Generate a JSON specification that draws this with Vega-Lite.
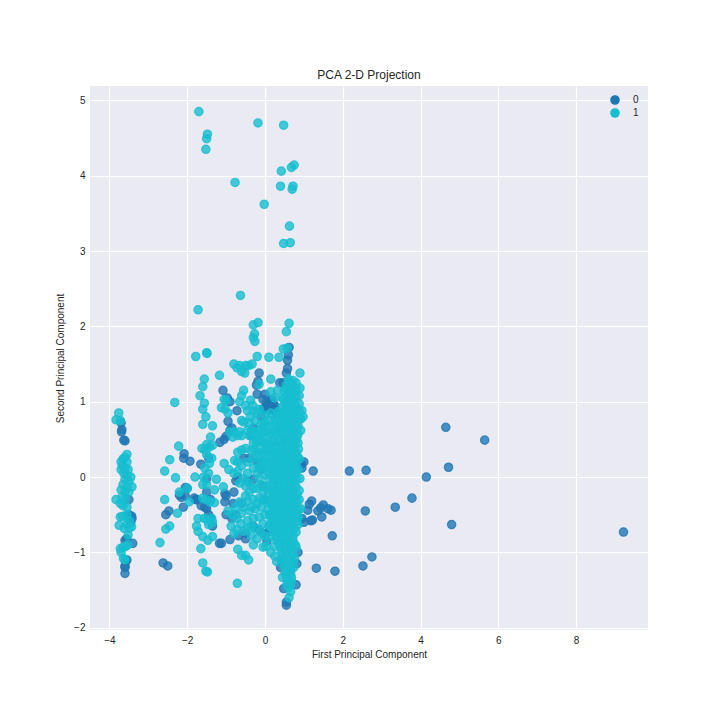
{"$schema":"https://vega.github.io/schema/vega-lite/v6.json","width":558,"height":544,"autosize":"none","padding":{"left":90,"top":86,"right":72,"bottom":90},"background":"white","title":{"text":"PCA 2-D Projection","fontSize":12,"font":"Liberation Sans","fontWeight":"normal","color":"#262626","offset":4},"config":{"view":{"fill":"#EAEAF2","stroke":null},"axis":{"grid":true,"gridColor":"white","gridWidth":1.2,"gridOpacity":1,"domain":false,"ticks":false,"labelFont":"Liberation Sans","titleFont":"Liberation Sans","labelFontSize":10,"titleFontSize":10,"titleFontWeight":"normal","labelColor":"#262626","titleColor":"#262626"}},"data":{"values":[
{"l":"0","a":9.22,"b":-0.73},{"l":"0","a":5.65,"b":0.49},{"l":"0","a":4.65,"b":0.66},{"l":"0","a":4.72,"b":0.13},{"l":"0","a":4.8,"b":-0.63},{"l":"0","a":4.15,"b":0.0},{"l":"0","a":3.78,"b":-0.28},{"l":"0","a":3.35,"b":-0.4},{"l":"0","a":2.6,"b":0.09},{"l":"0","a":2.17,"b":0.08},{"l":"0","a":2.58,"b":-0.45},{"l":"0","a":2.75,"b":-1.06},{"l":"0","a":2.52,"b":-1.18},{"l":"0","a":1.8,"b":-1.25},{"l":"0","a":1.73,"b":-0.78},{"l":"0","a":1.32,"b":-1.21},{"l":"0","a":1.24,"b":0.08},{"l":"0","a":1.7,"b":-0.44},{"l":"0","a":1.62,"b":-0.42},{"l":"0","a":1.5,"b":-0.37},{"l":"0","a":1.43,"b":-0.41},{"l":"0","a":1.36,"b":-0.45},{"l":"0","a":1.2,"b":-0.32},{"l":"0","a":1.14,"b":-0.36},{"l":"0","a":1.1,"b":-0.44},{"l":"0","a":1.18,"b":-0.58},{"l":"0","a":1.22,"b":-0.57},{"l":"0","a":1.46,"b":-0.53},{"l":"0","a":1.0,"b":0.2},{"l":"0","a":0.94,"b":0.17},{"l":"0","a":1.0,"b":-0.6},{"l":"0","a":0.95,"b":-0.55},
{"l":"0","a":-3.7,"b":0.72},{"l":"0","a":-3.68,"b":0.63},{"l":"0","a":-3.69,"b":0.6},{"l":"0","a":-3.63,"b":0.49},{"l":"0","a":-3.6,"b":0.48},{"l":"0","a":-3.5,"b":-0.5},{"l":"0","a":-3.43,"b":-0.52},{"l":"0","a":-3.42,"b":-0.55},{"l":"0","a":-3.45,"b":-0.6},{"l":"0","a":-3.5,"b":-0.3},{"l":"0","a":-3.56,"b":-0.82},{"l":"0","a":-3.4,"b":-0.88},{"l":"0","a":-3.6,"b":-0.84},{"l":"0","a":-3.55,"b":-1.1},{"l":"0","a":-3.58,"b":-1.12},{"l":"0","a":-3.6,"b":-1.18},{"l":"0","a":-3.6,"b":-1.2},{"l":"0","a":-3.6,"b":-1.28},
{"l":"0","a":-2.62,"b":-1.14},{"l":"0","a":-2.5,"b":-1.18},{"l":"0","a":-2.55,"b":-0.5},{"l":"0","a":-2.47,"b":-0.45},{"l":"0","a":-2.08,"b":0.31},{"l":"0","a":-2.09,"b":0.25},{"l":"0","a":-1.93,"b":0.21},{"l":"0","a":-2.05,"b":-0.14},{"l":"0","a":-2.15,"b":-0.27},{"l":"0","a":-2.05,"b":-0.25},{"l":"0","a":-2.2,"b":-0.24},{"l":"0","a":-2.1,"b":-0.4},{"l":"0","a":-1.82,"b":-0.28},{"l":"0","a":-1.78,"b":-0.3},{"l":"0","a":-1.64,"b":-0.38},{"l":"0","a":-1.5,"b":-0.42},{"l":"0","a":-1.45,"b":-0.5},{"l":"0","a":-1.4,"b":-0.55},{"l":"0","a":-1.35,"b":-0.65},{"l":"0","a":-1.65,"b":0.17},{"l":"0","a":-1.45,"b":0.25},{"l":"0","a":-1.5,"b":-0.02},{"l":"0","a":-1.5,"b":-0.2},{"l":"0","a":-1.17,"b":-0.88},{"l":"0","a":-1.12,"b":-0.88},{"l":"0","a":-0.9,"b":-0.83},{"l":"0","a":-1.16,"b":0.46},{"l":"0","a":-1.05,"b":0.5},{"l":"0","a":-1.0,"b":0.54},{"l":"0","a":-0.9,"b":0.62},{"l":"0","a":-0.85,"b":0.65},{"l":"0","a":-0.95,"b":0.74},{"l":"0","a":-1.08,"b":1.15},{"l":"0","a":-0.97,"b":1.05},{"l":"0","a":-0.9,"b":1.0},{"l":"0","a":-0.72,"b":0.88},{"l":"0","a":-1.03,"b":-0.22},{"l":"0","a":-1.0,"b":-0.25},{"l":"0","a":-1.03,"b":-0.33},{"l":"0","a":-0.8,"b":-0.2},{"l":"0","a":-0.82,"b":-0.35},{"l":"0","a":-0.75,"b":-0.05},{"l":"0","a":-0.7,"b":0.0},{"l":"0","a":-0.68,"b":-0.78},{"l":"0","a":-0.5,"b":-0.82},{"l":"0","a":-0.3,"b":-0.65},{"l":"0","a":-0.2,"b":1.1},{"l":"0","a":-0.15,"b":1.38},{"l":"0","a":-0.18,"b":1.27},{"l":"0","a":-0.22,"b":1.22},{"l":"0","a":0.0,"b":1.1},{"l":"0","a":0.05,"b":1.0},{"l":"0","a":-0.05,"b":0.9},{"l":"0","a":0.1,"b":0.88},{"l":"0","a":-0.1,"b":0.8},{"l":"0","a":0.05,"b":0.95},{"l":"0","a":-0.3,"b":0.65},{"l":"0","a":-0.4,"b":0.25},{"l":"0","a":-0.2,"b":0.2},{"l":"0","a":-0.1,"b":0.1},{"l":"0","a":-0.05,"b":-0.12},{"l":"0","a":-0.3,"b":-0.03},{"l":"0","a":0.0,"b":-0.75},{"l":"0","a":-0.15,"b":-0.7},{"l":"0","a":0.62,"b":1.72},{"l":"0","a":0.6,"b":1.62},{"l":"0","a":0.58,"b":1.55},{"l":"0","a":0.58,"b":1.44},{"l":"0","a":0.55,"b":1.38},{"l":"0","a":0.38,"b":1.25},{"l":"0","a":0.46,"b":1.25},{"l":"0","a":0.65,"b":1.25},{"l":"0","a":0.25,"b":0.95},{"l":"0","a":0.3,"b":0.82},{"l":"0","a":0.55,"b":-1.7},{"l":"0","a":0.55,"b":-1.66},{"l":"0","a":0.48,"b":-1.48},{"l":"0","a":0.8,"b":-1.43},{"l":"0","a":0.4,"b":-1.2},{"l":"0","a":0.42,"b":-1.1},{"l":"0","a":0.82,"b":-1.15},{"l":"0","a":0.85,"b":-1.0},{"l":"0","a":0.95,"b":0.12},{"l":"0","a":0.5,"b":0.5},{"l":"0","a":0.4,"b":-0.2},
{"l":"0","a":0.1,"b":0.98},{"l":"0","a":0.2,"b":0.98},{"l":"0","a":0.0,"b":0.92},{"l":"0","a":-0.05,"b":1.03},{"l":"0","a":0.15,"b":0.9},{"l":"0","a":0.28,"b":0.9},{"l":"0","a":0.18,"b":1.03},{"l":"0","a":-0.35,"b":0.55},{"l":"0","a":-0.55,"b":0.25},{"l":"0","a":-0.6,"b":-0.35},{"l":"0","a":-0.75,"b":-0.5},{"l":"0","a":-0.5,"b":-0.75},{"l":"0","a":0.1,"b":-0.72},{"l":"0","a":0.05,"b":-0.85},{"l":"0","a":0.0,"b":-0.3},{"l":"0","a":-0.45,"b":-0.05},{"l":"0","a":-1.0,"b":-0.5},{"l":"0","a":-0.85,"b":-0.55},{"l":"0","a":-2.0,"b":-0.15},{"l":"0","a":-1.75,"b":-0.3},{"l":"0","a":-1.4,"b":-0.3},{"l":"0","a":-1.55,"b":-0.4},
{"l":"1","a":-1.7,"b":4.85},{"l":"1","a":-1.48,"b":4.55},{"l":"1","a":-1.5,"b":4.49},{"l":"1","a":-1.52,"b":4.35},{"l":"1","a":-0.18,"b":4.7},{"l":"1","a":0.48,"b":4.67},{"l":"1","a":0.42,"b":4.06},{"l":"1","a":0.68,"b":4.11},{"l":"1","a":0.75,"b":4.14},{"l":"1","a":0.72,"b":3.86},{"l":"1","a":0.7,"b":3.82},{"l":"1","a":0.4,"b":3.86},{"l":"1","a":-0.77,"b":3.91},{"l":"1","a":-0.02,"b":3.62},{"l":"1","a":0.63,"b":3.33},{"l":"1","a":0.48,"b":3.1},{"l":"1","a":0.65,"b":3.11},{"l":"1","a":-1.72,"b":2.22},{"l":"1","a":-0.63,"b":2.41},{"l":"1","a":-0.3,"b":2.02},{"l":"1","a":-0.18,"b":2.05},{"l":"1","a":-0.27,"b":1.9},{"l":"1","a":-0.3,"b":1.85},{"l":"1","a":-0.26,"b":1.8},{"l":"1","a":0.62,"b":2.04},{"l":"1","a":0.55,"b":1.93},{"l":"1","a":0.1,"b":1.59},{"l":"1","a":0.36,"b":1.59},{"l":"1","a":-0.2,"b":1.6},{"l":"1","a":-1.78,"b":1.6},{"l":"1","a":-1.5,"b":1.65},{"l":"1","a":-1.49,"b":1.64},{"l":"1","a":0.47,"b":1.7},{"l":"1","a":0.57,"b":1.71},{"l":"1","a":-2.32,"b":0.99},
{"l":"1","a":-3.83,"b":0.76},{"l":"1","a":-3.76,"b":0.85},{"l":"1","a":-3.72,"b":0.75},{"l":"1","a":-3.55,"b":0.3},{"l":"1","a":-3.65,"b":0.24},{"l":"1","a":-3.6,"b":0.26},{"l":"1","a":-3.7,"b":0.2},{"l":"1","a":-3.55,"b":0.2},{"l":"1","a":-3.67,"b":0.15},{"l":"1","a":-3.6,"b":0.12},{"l":"1","a":-3.52,"b":0.1},{"l":"1","a":-3.7,"b":0.1},{"l":"1","a":-3.63,"b":0.05},{"l":"1","a":-3.55,"b":0.02},{"l":"1","a":-3.45,"b":0.0},{"l":"1","a":-3.6,"b":-0.03},{"l":"1","a":-3.5,"b":-0.06},{"l":"1","a":-3.65,"b":-0.1},{"l":"1","a":-3.55,"b":-0.13},{"l":"1","a":-3.42,"b":-0.13},{"l":"1","a":-3.7,"b":-0.17},{"l":"1","a":-3.6,"b":-0.2},{"l":"1","a":-3.5,"b":-0.2},{"l":"1","a":-3.68,"b":-0.27},{"l":"1","a":-3.6,"b":-0.3},{"l":"1","a":-3.83,"b":-0.3},{"l":"1","a":-3.72,"b":-0.35},{"l":"1","a":-3.65,"b":-0.38},{"l":"1","a":-3.55,"b":-0.4},{"l":"1","a":-3.66,"b":-0.52},{"l":"1","a":-3.55,"b":-0.5},{"l":"1","a":-3.48,"b":-0.58},{"l":"1","a":-3.72,"b":-0.53},{"l":"1","a":-3.55,"b":-0.62},{"l":"1","a":-3.75,"b":-0.64},{"l":"1","a":-3.43,"b":-0.66},{"l":"1","a":-3.5,"b":-0.68},{"l":"1","a":-3.62,"b":-0.68},{"l":"1","a":-3.52,"b":-0.77},{"l":"1","a":-3.72,"b":-0.95},{"l":"1","a":-3.65,"b":-0.93},{"l":"1","a":-3.58,"b":-0.92},{"l":"1","a":-3.53,"b":-0.9},{"l":"1","a":-3.7,"b":-1.0},{"l":"1","a":-3.64,"b":-1.08},{"l":"1","a":-3.6,"b":-1.1},
{"l":"1","a":-2.7,"b":-0.87},{"l":"1","a":-2.58,"b":-0.3},{"l":"1","a":-2.58,"b":0.08},{"l":"1","a":-2.45,"b":0.23},{"l":"1","a":-2.22,"b":0.41},{"l":"1","a":-2.3,"b":-0.01},{"l":"1","a":-2.25,"b":-0.48},{"l":"1","a":-2.2,"b":-0.2},{"l":"1","a":-2.0,"b":-0.15},{"l":"1","a":-1.95,"b":-0.33},{"l":"1","a":-2.45,"b":-0.65},{"l":"1","a":-2.55,"b":-0.69},{"l":"1","a":-1.8,"b":0.0},{"l":"1","a":-1.65,"b":-0.95},{"l":"1","a":-1.6,"b":-1.14},{"l":"1","a":-1.52,"b":-1.25},{"l":"1","a":-1.48,"b":-1.26},
{"l":"1","a":-1.56,"b":1.3},{"l":"1","a":-1.6,"b":1.2},{"l":"1","a":-1.67,"b":1.08},{"l":"1","a":-1.56,"b":0.98},{"l":"1","a":-1.6,"b":0.9},{"l":"1","a":-1.52,"b":0.8},{"l":"1","a":-1.6,"b":0.7},{"l":"1","a":-1.35,"b":0.68},{"l":"1","a":-1.4,"b":0.53},{"l":"1","a":-1.5,"b":0.43},{"l":"1","a":-1.43,"b":0.4},{"l":"1","a":-1.35,"b":0.42},{"l":"1","a":-1.62,"b":0.38},{"l":"1","a":-1.55,"b":0.36},{"l":"1","a":-1.5,"b":0.3},{"l":"1","a":-1.37,"b":0.25},{"l":"1","a":-1.43,"b":0.18},{"l":"1","a":-1.55,"b":0.12},{"l":"1","a":-1.58,"b":0.0},{"l":"1","a":-1.45,"b":0.05},{"l":"1","a":-1.6,"b":-0.1},{"l":"1","a":-1.5,"b":-0.1},{"l":"1","a":-1.25,"b":-0.03},{"l":"1","a":-1.3,"b":-0.17},{"l":"1","a":-1.07,"b":-0.13},{"l":"1","a":-1.6,"b":-0.28},{"l":"1","a":-1.52,"b":-0.3},{"l":"1","a":-1.42,"b":-0.33},{"l":"1","a":-1.3,"b":-0.34},{"l":"1","a":-1.56,"b":-0.55},{"l":"1","a":-1.48,"b":-0.57},{"l":"1","a":-1.37,"b":-0.55},{"l":"1","a":-1.72,"b":-0.55},{"l":"1","a":-1.45,"b":-0.63},{"l":"1","a":-1.35,"b":-0.6},{"l":"1","a":-1.76,"b":-0.65},{"l":"1","a":-1.72,"b":-0.72},{"l":"1","a":-1.6,"b":-0.79},{"l":"1","a":-1.47,"b":-0.84},{"l":"1","a":-1.35,"b":-0.79},{"l":"1","a":-1.12,"b":0.92},{"l":"1","a":-1.17,"b":1.35},{"l":"1","a":-1.05,"b":1.03},{"l":"1","a":-1.0,"b":1.02},{"l":"1","a":-0.95,"b":0.85},{"l":"1","a":-1.03,"b":0.9},{"l":"1","a":-0.9,"b":0.6},{"l":"1","a":-0.83,"b":0.53},{"l":"1","a":-0.8,"b":0.6},{"l":"1","a":-0.7,"b":0.55},{"l":"1","a":-1.05,"b":0.18},{"l":"1","a":-0.93,"b":0.1},{"l":"1","a":-0.7,"b":0.33},{"l":"1","a":-0.6,"b":0.36},{"l":"1","a":-0.5,"b":0.38},{"l":"1","a":-0.78,"b":0.22},{"l":"1","a":-0.7,"b":0.2},{"l":"1","a":-0.8,"b":0.05},{"l":"1","a":-0.7,"b":0.08},{"l":"1","a":-0.6,"b":0.15},{"l":"1","a":-0.65,"b":-0.08},{"l":"1","a":-0.55,"b":-0.02},{"l":"1","a":-0.95,"b":-0.45},{"l":"1","a":-0.85,"b":-0.5},{"l":"1","a":-0.75,"b":-0.4},{"l":"1","a":-0.65,"b":-0.33},{"l":"1","a":-0.6,"b":-0.48},{"l":"1","a":-0.72,"b":-0.55},{"l":"1","a":-0.62,"b":-0.62},{"l":"1","a":-0.87,"b":-0.65},{"l":"1","a":-0.8,"b":-0.75},{"l":"1","a":-0.72,"b":-0.7},{"l":"1","a":-0.55,"b":-0.72},{"l":"1","a":-0.45,"b":-0.68},{"l":"1","a":-0.35,"b":-0.78},{"l":"1","a":-0.2,"b":-0.82},{"l":"1","a":-0.3,"b":-0.9},{"l":"1","a":-0.7,"b":-0.96},{"l":"1","a":-0.6,"b":-1.04},{"l":"1","a":-0.5,"b":-1.04},{"l":"1","a":-0.42,"b":-1.1},{"l":"1","a":-0.71,"b":-1.41},
{"l":"1","a":-0.8,"b":1.5},{"l":"1","a":-0.72,"b":1.45},{"l":"1","a":-0.65,"b":1.48},{"l":"1","a":-0.6,"b":1.4},{"l":"1","a":-0.5,"b":1.48},{"l":"1","a":-0.42,"b":1.48},{"l":"1","a":-0.33,"b":1.5},{"l":"1","a":-0.52,"b":1.38},{"l":"1","a":-0.15,"b":1.23},{"l":"1","a":0.15,"b":1.3},{"l":"1","a":0.9,"b":1.38},{"l":"1","a":0.32,"b":1.15},{"l":"1","a":-0.55,"b":1.15},{"l":"1","a":-0.6,"b":1.08},{"l":"1","a":-0.65,"b":1.0},{"l":"1","a":-0.37,"b":1.02},{"l":"1","a":-0.5,"b":0.95},{"l":"1","a":-0.45,"b":0.88},{"l":"1","a":-0.3,"b":0.88},{"l":"1","a":-0.2,"b":0.85},{"l":"1","a":-0.55,"b":0.73},{"l":"1","a":-0.42,"b":0.72},{"l":"1","a":-0.25,"b":0.75},{"l":"1","a":-0.1,"b":0.7},{"l":"1","a":0.0,"b":0.82},{"l":"1","a":0.1,"b":0.75},{"l":"1","a":0.15,"b":0.85},{"l":"1","a":0.3,"b":0.72},{"l":"1","a":0.45,"b":1.05},{"l":"1","a":0.15,"b":1.13},{"l":"1","a":0.25,"b":1.05},{"l":"1","a":-0.4,"b":0.55},{"l":"1","a":-0.25,"b":0.6},{"l":"1","a":-0.12,"b":0.55},{"l":"1","a":0.05,"b":0.6},{"l":"1","a":0.2,"b":0.58},{"l":"1","a":-0.3,"b":0.45},{"l":"1","a":-0.15,"b":0.48},{"l":"1","a":0.0,"b":0.45},{"l":"1","a":0.15,"b":0.45},{"l":"1","a":-0.35,"b":0.35},{"l":"1","a":-0.2,"b":0.33},{"l":"1","a":-0.05,"b":0.32},{"l":"1","a":0.1,"b":0.35},{"l":"1","a":-0.1,"b":0.2},{"l":"1","a":0.05,"b":0.2},{"l":"1","a":-0.45,"b":0.2},{"l":"1","a":-0.45,"b":0.05},{"l":"1","a":-0.3,"b":0.12},{"l":"1","a":-0.2,"b":0.05},{"l":"1","a":0.0,"b":0.03},{"l":"1","a":-0.5,"b":-0.12},{"l":"1","a":-0.4,"b":-0.2},{"l":"1","a":-0.3,"b":-0.15},{"l":"1","a":-0.15,"b":-0.02},{"l":"1","a":-0.45,"b":-0.32},{"l":"1","a":-0.3,"b":-0.3},{"l":"1","a":-0.15,"b":-0.28},{"l":"1","a":-0.05,"b":-0.2},{"l":"1","a":0.05,"b":-0.15},{"l":"1","a":-0.4,"b":-0.45},{"l":"1","a":-0.25,"b":-0.42},{"l":"1","a":-0.1,"b":-0.4},{"l":"1","a":0.05,"b":-0.33},{"l":"1","a":-0.45,"b":-0.58},{"l":"1","a":-0.3,"b":-0.55},{"l":"1","a":-0.15,"b":-0.53},{"l":"1","a":0.0,"b":-0.5},{"l":"1","a":0.12,"b":-0.5},{"l":"1","a":-0.25,"b":-0.68},{"l":"1","a":-0.05,"b":-0.62},{"l":"1","a":0.1,"b":-0.65},{"l":"1","a":-0.05,"b":-0.93},{"l":"1","a":0.03,"b":-0.92},{"l":"1","a":0.12,"b":-0.8},{"l":"1","a":0.15,"b":-1.0},{"l":"1","a":0.25,"b":-1.05},{"l":"1","a":0.3,"b":-1.12},{"l":"1","a":0.33,"b":-0.85},{"l":"1","a":0.25,"b":-0.92},
{"l":"1","a":-0.35,"b":0.62},{"l":"1","a":-0.3,"b":0.25},{"l":"1","a":-0.15,"b":0.12},{"l":"1","a":-0.05,"b":0.12},{"l":"1","a":-0.4,"b":-0.08},{"l":"1","a":-0.2,"b":-0.15},{"l":"1","a":-0.1,"b":-0.1},{"l":"1","a":-0.35,"b":-0.4},{"l":"1","a":-0.2,"b":-0.35},{"l":"1","a":-0.05,"b":-0.3},{"l":"1","a":-0.35,"b":-0.65},{"l":"1","a":-0.12,"b":-0.72},{"l":"1","a":0.0,"b":-0.78},{"l":"1","a":-0.55,"b":-0.4},{"l":"1","a":-0.5,"b":-0.25},{"l":"1","a":-0.1,"b":0.62},{"l":"1","a":0.0,"b":0.72},{"l":"1","a":-0.15,"b":0.9},{"l":"1","a":-0.38,"b":0.8},{"l":"1","a":-0.32,"b":0.95},{"l":"1","a":-0.45,"b":0.62},{"l":"1","a":-0.6,"b":0.75},{"l":"1","a":-0.65,"b":0.6},{"l":"1","a":-0.6,"b":0.55},
{"l":"1","a":0.6,"b":1.3},{"l":"1","a":0.55,"b":1.22},{"l":"1","a":0.68,"b":1.22},{"l":"1","a":0.8,"b":1.25},{"l":"1","a":0.9,"b":1.18},{"l":"1","a":0.5,"b":1.15},{"l":"1","a":0.62,"b":1.12},{"l":"1","a":0.75,"b":1.13},{"l":"1","a":0.88,"b":1.08},{"l":"1","a":0.48,"b":1.03},{"l":"1","a":0.6,"b":1.02},{"l":"1","a":0.72,"b":1.02},{"l":"1","a":0.45,"b":0.93},{"l":"1","a":0.58,"b":0.92},{"l":"1","a":0.7,"b":0.92},{"l":"1","a":0.82,"b":0.9},{"l":"1","a":0.95,"b":0.88},{"l":"1","a":0.4,"b":0.83},{"l":"1","a":0.55,"b":0.82},{"l":"1","a":0.68,"b":0.82},{"l":"1","a":0.8,"b":0.8},{"l":"1","a":0.98,"b":0.8},{"l":"1","a":0.88,"b":0.78},{"l":"1","a":0.45,"b":0.72},{"l":"1","a":0.58,"b":0.72},{"l":"1","a":0.72,"b":0.72},{"l":"1","a":0.85,"b":0.68},{"l":"1","a":0.3,"b":0.62},{"l":"1","a":0.45,"b":0.62},{"l":"1","a":0.6,"b":0.62},{"l":"1","a":0.75,"b":0.62},{"l":"1","a":0.92,"b":0.62},{"l":"1","a":0.35,"b":0.52},{"l":"1","a":0.5,"b":0.52},{"l":"1","a":0.65,"b":0.52},{"l":"1","a":0.82,"b":0.52},{"l":"1","a":0.28,"b":0.42},{"l":"1","a":0.42,"b":0.42},{"l":"1","a":0.58,"b":0.42},{"l":"1","a":0.72,"b":0.42},{"l":"1","a":0.85,"b":0.45},{"l":"1","a":0.22,"b":0.32},{"l":"1","a":0.36,"b":0.32},{"l":"1","a":0.52,"b":0.32},{"l":"1","a":0.66,"b":0.32},{"l":"1","a":0.8,"b":0.32},{"l":"1","a":0.2,"b":0.22},{"l":"1","a":0.34,"b":0.22},{"l":"1","a":0.48,"b":0.22},{"l":"1","a":0.62,"b":0.22},{"l":"1","a":0.76,"b":0.22},{"l":"1","a":0.88,"b":0.24},{"l":"1","a":0.15,"b":0.12},{"l":"1","a":0.3,"b":0.12},{"l":"1","a":0.44,"b":0.12},{"l":"1","a":0.58,"b":0.12},{"l":"1","a":0.72,"b":0.12},{"l":"1","a":0.85,"b":0.1},{"l":"1","a":0.18,"b":0.02},{"l":"1","a":0.32,"b":0.02},{"l":"1","a":0.46,"b":0.02},{"l":"1","a":0.6,"b":0.02},{"l":"1","a":0.74,"b":0.02},{"l":"1","a":0.9,"b":-0.02},{"l":"1","a":0.2,"b":-0.08},{"l":"1","a":0.34,"b":-0.08},{"l":"1","a":0.48,"b":-0.08},{"l":"1","a":0.62,"b":-0.08},{"l":"1","a":0.76,"b":-0.08},{"l":"1","a":0.16,"b":-0.18},{"l":"1","a":0.3,"b":-0.18},{"l":"1","a":0.44,"b":-0.18},{"l":"1","a":0.58,"b":-0.18},{"l":"1","a":0.72,"b":-0.18},{"l":"1","a":0.88,"b":-0.18},{"l":"1","a":0.2,"b":-0.28},{"l":"1","a":0.34,"b":-0.28},{"l":"1","a":0.48,"b":-0.28},{"l":"1","a":0.62,"b":-0.28},{"l":"1","a":0.76,"b":-0.28},{"l":"1","a":0.88,"b":-0.3},{"l":"1","a":0.18,"b":-0.38},{"l":"1","a":0.32,"b":-0.38},{"l":"1","a":0.46,"b":-0.38},{"l":"1","a":0.6,"b":-0.38},{"l":"1","a":0.74,"b":-0.38},{"l":"1","a":0.92,"b":-0.42},{"l":"1","a":0.2,"b":-0.48},{"l":"1","a":0.34,"b":-0.48},{"l":"1","a":0.48,"b":-0.48},{"l":"1","a":0.62,"b":-0.48},{"l":"1","a":0.78,"b":-0.48},{"l":"1","a":0.22,"b":-0.58},{"l":"1","a":0.36,"b":-0.58},{"l":"1","a":0.5,"b":-0.58},{"l":"1","a":0.64,"b":-0.58},{"l":"1","a":0.8,"b":-0.58},{"l":"1","a":0.18,"b":-0.68},{"l":"1","a":0.32,"b":-0.68},{"l":"1","a":0.46,"b":-0.68},{"l":"1","a":0.6,"b":-0.68},{"l":"1","a":0.76,"b":-0.68},{"l":"1","a":0.3,"b":-0.78},{"l":"1","a":0.44,"b":-0.78},{"l":"1","a":0.58,"b":-0.78},{"l":"1","a":0.72,"b":-0.78},{"l":"1","a":0.38,"b":-0.88},{"l":"1","a":0.52,"b":-0.88},{"l":"1","a":0.66,"b":-0.88},{"l":"1","a":0.78,"b":-0.9},{"l":"1","a":0.42,"b":-0.98},{"l":"1","a":0.56,"b":-0.98},{"l":"1","a":0.7,"b":-0.98},{"l":"1","a":0.48,"b":-1.08},{"l":"1","a":0.62,"b":-1.08},{"l":"1","a":0.76,"b":-1.08},{"l":"1","a":0.5,"b":-1.18},{"l":"1","a":0.64,"b":-1.18},{"l":"1","a":0.74,"b":-1.2},{"l":"1","a":0.52,"b":-1.28},{"l":"1","a":0.66,"b":-1.28},{"l":"1","a":0.45,"b":-1.33},{"l":"1","a":0.58,"b":-1.38},{"l":"1","a":0.68,"b":-1.38},{"l":"1","a":0.6,"b":-1.47},{"l":"1","a":0.66,"b":-1.52},{"l":"1","a":0.62,"b":-1.6},
{"l":"1","a":0.62,"b":1.27},{"l":"1","a":0.72,"b":1.28},{"l":"1","a":0.55,"b":1.17},{"l":"1","a":0.68,"b":1.17},{"l":"1","a":0.8,"b":1.17},{"l":"1","a":0.55,"b":1.07},{"l":"1","a":0.67,"b":1.07},{"l":"1","a":0.8,"b":1.07},{"l":"1","a":0.52,"b":0.97},{"l":"1","a":0.65,"b":0.97},{"l":"1","a":0.78,"b":0.97},{"l":"1","a":0.88,"b":0.97},{"l":"1","a":0.35,"b":0.87},{"l":"1","a":0.5,"b":0.87},{"l":"1","a":0.62,"b":0.87},{"l":"1","a":0.75,"b":0.87},{"l":"1","a":0.88,"b":0.87},{"l":"1","a":0.25,"b":0.77},{"l":"1","a":0.38,"b":0.77},{"l":"1","a":0.5,"b":0.77},{"l":"1","a":0.65,"b":0.77},{"l":"1","a":0.78,"b":0.77},{"l":"1","a":0.92,"b":0.77},{"l":"1","a":-0.05,"b":0.67},{"l":"1","a":0.1,"b":0.67},{"l":"1","a":0.22,"b":0.67},{"l":"1","a":0.38,"b":0.67},{"l":"1","a":0.52,"b":0.67},{"l":"1","a":0.66,"b":0.67},{"l":"1","a":0.8,"b":0.67},{"l":"1","a":-0.3,"b":0.57},{"l":"1","a":-0.18,"b":0.57},{"l":"1","a":-0.05,"b":0.57},{"l":"1","a":0.12,"b":0.57},{"l":"1","a":0.27,"b":0.57},{"l":"1","a":0.42,"b":0.57},{"l":"1","a":0.57,"b":0.57},{"l":"1","a":0.7,"b":0.57},{"l":"1","a":0.85,"b":0.57},{"l":"1","a":-0.22,"b":0.47},{"l":"1","a":-0.08,"b":0.47},{"l":"1","a":0.08,"b":0.47},{"l":"1","a":0.22,"b":0.47},{"l":"1","a":0.35,"b":0.47},{"l":"1","a":0.5,"b":0.47},{"l":"1","a":0.65,"b":0.47},{"l":"1","a":0.78,"b":0.47},{"l":"1","a":-0.28,"b":0.37},{"l":"1","a":-0.12,"b":0.37},{"l":"1","a":0.02,"b":0.37},{"l":"1","a":0.16,"b":0.37},{"l":"1","a":0.3,"b":0.37},{"l":"1","a":0.45,"b":0.37},{"l":"1","a":0.6,"b":0.37},{"l":"1","a":0.74,"b":0.37},{"l":"1","a":0.86,"b":0.37},{"l":"1","a":-0.15,"b":0.27},{"l":"1","a":0.0,"b":0.27},{"l":"1","a":0.13,"b":0.27},{"l":"1","a":0.28,"b":0.27},{"l":"1","a":0.42,"b":0.27},{"l":"1","a":0.56,"b":0.27},{"l":"1","a":0.7,"b":0.27},{"l":"1","a":0.84,"b":0.27},{"l":"1","a":-0.02,"b":0.17},{"l":"1","a":0.1,"b":0.17},{"l":"1","a":0.24,"b":0.17},{"l":"1","a":0.38,"b":0.17},{"l":"1","a":0.52,"b":0.17},{"l":"1","a":0.66,"b":0.17},{"l":"1","a":0.8,"b":0.17},{"l":"1","a":0.08,"b":0.07},{"l":"1","a":0.22,"b":0.07},{"l":"1","a":0.37,"b":0.07},{"l":"1","a":0.51,"b":0.07},{"l":"1","a":0.65,"b":0.07},{"l":"1","a":0.8,"b":0.07},{"l":"1","a":0.1,"b":-0.03},{"l":"1","a":0.25,"b":-0.03},{"l":"1","a":0.4,"b":-0.03},{"l":"1","a":0.54,"b":-0.03},{"l":"1","a":0.68,"b":-0.03},{"l":"1","a":0.82,"b":-0.03},{"l":"1","a":0.08,"b":-0.13},{"l":"1","a":0.23,"b":-0.13},{"l":"1","a":0.37,"b":-0.13},{"l":"1","a":0.52,"b":-0.13},{"l":"1","a":0.66,"b":-0.13},{"l":"1","a":0.8,"b":-0.13},{"l":"1","a":0.1,"b":-0.23},{"l":"1","a":0.24,"b":-0.23},{"l":"1","a":0.38,"b":-0.23},{"l":"1","a":0.52,"b":-0.23},{"l":"1","a":0.66,"b":-0.23},{"l":"1","a":0.82,"b":-0.23},{"l":"1","a":0.12,"b":-0.33},{"l":"1","a":0.26,"b":-0.33},{"l":"1","a":0.4,"b":-0.33},{"l":"1","a":0.54,"b":-0.33},{"l":"1","a":0.68,"b":-0.33},{"l":"1","a":0.82,"b":-0.33},{"l":"1","a":0.08,"b":-0.43},{"l":"1","a":0.25,"b":-0.43},{"l":"1","a":0.4,"b":-0.43},{"l":"1","a":0.55,"b":-0.43},{"l":"1","a":0.7,"b":-0.43},{"l":"1","a":0.85,"b":-0.43},{"l":"1","a":0.14,"b":-0.53},{"l":"1","a":0.28,"b":-0.53},{"l":"1","a":0.42,"b":-0.53},{"l":"1","a":0.56,"b":-0.53},{"l":"1","a":0.7,"b":-0.53},{"l":"1","a":0.86,"b":-0.53},{"l":"1","a":0.12,"b":-0.63},{"l":"1","a":0.26,"b":-0.63},{"l":"1","a":0.4,"b":-0.63},{"l":"1","a":0.54,"b":-0.63},{"l":"1","a":0.68,"b":-0.63},{"l":"1","a":0.85,"b":-0.63},{"l":"1","a":0.22,"b":-0.73},{"l":"1","a":0.36,"b":-0.73},{"l":"1","a":0.5,"b":-0.73},{"l":"1","a":0.64,"b":-0.73},{"l":"1","a":0.8,"b":-0.73},{"l":"1","a":0.3,"b":-0.83},{"l":"1","a":0.45,"b":-0.83},{"l":"1","a":0.58,"b":-0.83},{"l":"1","a":0.72,"b":-0.83},{"l":"1","a":0.4,"b":-0.93},{"l":"1","a":0.52,"b":-0.93},{"l":"1","a":0.66,"b":-0.93},{"l":"1","a":0.8,"b":-0.93},{"l":"1","a":0.45,"b":-1.03},{"l":"1","a":0.58,"b":-1.03},{"l":"1","a":0.72,"b":-1.03},{"l":"1","a":0.48,"b":-1.13},{"l":"1","a":0.6,"b":-1.13},{"l":"1","a":0.72,"b":-1.13},{"l":"1","a":0.52,"b":-1.23},{"l":"1","a":0.66,"b":-1.23},{"l":"1","a":0.56,"b":-1.33},{"l":"1","a":0.68,"b":-1.33},{"l":"1","a":0.56,"b":-1.43},{"l":"1","a":0.66,"b":-1.43}
]},"mark":{"type":"point","filled":true,"opacity":1,"fillOpacity":0.8,"strokeOpacity":0.8,"strokeWidth":1.2,"size":70},"encoding":{"x":{"field":"a","type":"quantitative","title":"First Principal Component","scale":{"domain":[-4.5,9.85],"nice":false,"zero":false},"axis":{"values":[-4,-2,0,2,4,6,8],"titlePadding":4,"labelPadding":5}},"y":{"field":"b","type":"quantitative","title":"Second Principal Component","scale":{"domain":[-2.03,5.19],"nice":false,"zero":false},"axis":{"values":[-2,-1,0,1,2,3,4,5],"titlePadding":8,"labelPadding":5}},"color":{"field":"l","type":"nominal","scale":{"domain":["0","1"],"range":["#1f77b4","#17becf"]},"legend":{"title":null,"orient":"none","legendX":520,"legendY":9,"labelFont":"Liberation Sans","labelFontSize":10,"labelColor":"#262626","labelOffset":13,"symbolSize":70,"rowPadding":-1,"symbolStrokeWidth":1.2}},"stroke":{"field":"l","type":"nominal","scale":{"domain":["0","1"],"range":["#1f77b4","#17becf"]},"legend":null}}}
